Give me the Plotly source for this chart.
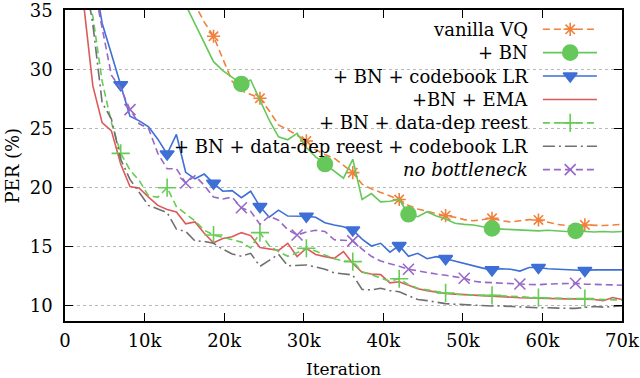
import plotly.graph_objects as go

# ---------------- data ----------------
N_POINTS = 60
MAX_ITER = 70000
iterations = [i * MAX_ITER / N_POINTS for i in range(1, N_POINTS + 1)]

vanilla_vq = [75, 68, 62, 57, 53, 50, 47.5, 45, 43, 41.5,
              40, 38.5, 37, 35.6, 34.0, 32.8, 30.9, 29.0, 28.2, 27.9,
              27.56, 26.5, 25.3, 24.9, 24.4, 23.95, 23.2, 22.8, 22.5, 21.9,
              21.27, 20.3, 19.9, 19.6, 19.3, 19.0, 18.5, 18.2, 18.0, 17.8,
              17.63, 17.5, 17.3, 17.2, 17.3, 17.41, 17.2, 17.1, 17.2, 17.3,
              17.27, 17.1, 16.9, 16.8, 16.75, 16.85, 16.8, 16.8, 16.85, 16.9]

bn = [80, 72, 66, 60, 56, 52, 49, 46.5, 44, 42,
      40, 37.5, 35.45, 33.85, 32.25, 30.65, 29.9, 29.3, 28.77, 29.1,
      27.4, 25.7, 24.3, 24.05, 24.6, 23.4, 22.6, 22.0, 21.4, 20.8,
      22.4, 19.0, 19.5, 18.8, 18.85, 19.0, 17.75, 17.55, 17.97, 17.6,
      17.35, 17.0, 16.9, 16.85, 16.7, 16.55, 16.5, 16.45, 16.45, 16.4,
      16.35, 16.4, 16.35, 16.3, 16.35, 16.3, 16.25, 16.3, 16.25, 16.3]

bn_codebook_lr = [52, 44, 38.5, 33.9, 31.3, 28.7, 26.05, 25.65, 25.15, 24.1,
                  22.85, 24.5, 21.3, 20.75, 21.15, 20.37, 19.7, 19.75, 19.15, 19.7,
                  18.4, 17.5, 18.1, 17.6, 17.62, 17.58, 17.5, 17.04, 16.85, 16.7,
                  16.42, 15.65, 15.07, 15.3, 14.55, 15.1, 14.2, 14.45, 14.0, 14.17,
                  14.0, 13.8, 13.55, 13.35, 13.2, 13.05, 13.15, 13.1, 12.95, 13.25,
                  13.25, 13.15, 13.1, 13.1, 13.05, 13.0, 13.05, 13.05, 13.05, 13.05]

bn_ema = [50.0, 35.6, 28.6, 25.5, 24.8, 22.0, 20.1, 19.95, 19.2, 18.5,
          18.15, 17.95, 16.95, 17.1, 16.15, 15.35, 15.7, 15.85, 16.2, 15.95,
          14.95, 14.85, 14.7, 15.3, 14.17, 14.88, 14.35, 14.17, 14.03, 14.6,
          13.6, 12.85, 12.7, 12.65, 11.95, 12.05, 11.75, 11.45, 11.3, 11.15,
          11.05, 11.0, 10.95, 10.9, 10.85, 10.8, 10.75, 10.72, 10.7, 10.68,
          10.65, 10.65, 10.6, 10.6, 10.6, 10.58, 10.55, 10.45, 10.72, 10.55]

bn_reest = [55, 36.5, 34.5, 29.0, 25.5, 22.9, 21.5, 20.6, 19.3, 19.2,
            20.0, 18.4, 17.8, 17.2, 16.4, 16.0, 15.8, 15.6, 15.4, 14.9,
            16.2, 15.1, 14.6, 14.2, 14.5, 14.88, 14.65, 14.3, 14.0, 13.8,
            13.75, 12.9, 12.65, 12.4, 12.1, 12.3, 11.8, 11.5, 11.35, 11.2,
            11.1, 11.0, 10.95, 10.92, 10.9, 10.9, 10.85, 10.8, 10.75, 10.72,
            10.7, 10.68, 10.66, 10.65, 10.65, 10.62, 10.6, 10.58, 10.55, 10.5]

bn_reest_codebook_lr = [56, 38.5, 33.8, 27.2, 25.8, 22.4, 20.7, 19.6, 18.5, 18.2,
                        17.9, 16.5, 16.3, 15.5, 15.45, 15.3, 14.8, 14.4, 14.2, 14.45,
                        13.35, 13.85, 14.37, 13.4, 13.42, 13.47, 13.3, 13.1, 12.8, 12.7,
                        12.62, 11.4, 11.35, 11.5, 11.3, 11.2, 10.85, 10.55, 10.45, 10.3,
                        10.2, 10.15, 10.1, 10.05, 10.0, 10.0, 10.0, 9.95, 9.9, 9.9,
                        9.85, 9.85, 9.8, 9.8, 9.8, 9.85, 9.95, 9.9, 9.95, 10.0]

no_bottleneck = [60, 45, 37.5, 33.5, 29.5, 28.4, 26.6, 25.4, 25.0, 22.9,
                 21.6, 21.6, 20.4, 21.0, 20.2, 19.2, 19.05, 19.2, 18.3, 18.0,
                 16.9, 17.6, 17.25, 16.45, 16.0, 16.25, 16.4, 16.3, 15.6, 15.55,
                 15.5, 14.8, 14.2, 13.8, 13.6, 13.35, 13.1, 12.95, 12.8, 12.7,
                 12.6, 12.45, 12.34, 12.1, 12.0, 11.97, 11.95, 11.9, 11.86, 11.82,
                 11.8, 11.85, 11.86, 11.9, 11.92, 11.85, 11.8, 11.8, 11.78, 11.75]

x_tick_vals = [0, 10000, 20000, 30000, 40000, 50000, 60000, 70000]
x_tick_text = ["0", "10k", "20k", "30k", "40k", "50k", "60k", "70k"]
y_tick_vals = [10, 15, 20, 25, 30, 35]
y_tick_text = ["10", "15", "20", "25", "30", "35"]

# ---------------- styles ----------------
FONT = "DejaVu Serif"
series = [
    dict(name="vanilla VQ", y=vanilla_vq, color="#f0803c", dash="7px,4px",
         symbol="asterisk-open", size=11, every=5),
    dict(name="+ BN", y=bn, color="#66c85a", dash="solid",
         symbol="circle", size=15, every=9),
    dict(name="+ BN + codebook LR", y=bn_codebook_lr, color="#3d6fd6", dash="solid",
         symbol="triangle-down", size=12, every=5),
    dict(name="+BN + EMA", y=bn_ema, color="#dc5a5a", dash="solid",
         symbol=None, size=0, every=0),
    dict(name="+ BN + data-dep reest", y=bn_reest, color="#66cc55", dash="7px,4px",
         symbol="cross-thin-open", size=13, every=5),
    dict(name="+ BN + data-dep reest + codebook LR", y=bn_reest_codebook_lr,
         color="#707070", dash="12px,4px,2px,4px", symbol=None, size=0, every=0),
    dict(name="<i>no bottleneck</i>", y=no_bottleneck, color="#9868c8", dash="7px,4px",
         symbol="x-thin-open", size=11, every=6),
]

fig = go.Figure()

for s in series:
    fig.add_trace(go.Scatter(
        x=iterations, y=s["y"], mode="lines",
        line=dict(color=s["color"], width=1.6, dash=s["dash"]),
        showlegend=False, hoverinfo="skip"))
    if s["symbol"]:
        n = s["every"]
        fig.add_trace(go.Scatter(
            x=iterations[::n], y=s["y"][::n], mode="markers",
            marker=dict(symbol=s["symbol"], size=s["size"], color=s["color"],
                        line=dict(color=s["color"], width=1.6)),
            showlegend=False, hoverinfo="skip"))

# ---------------- manual gnuplot-style key ----------------
KEY_TEXT_X = 0.835
KEY_LINE_X0 = 0.858
KEY_LINE_X1 = 0.955
KEY_MARK_X = 0.907
KEY_TOP_Y = 0.938
KEY_STEP = 0.0752

for k, s in enumerate(series):
    yk = KEY_TOP_Y - k * KEY_STEP
    fig.add_annotation(x=KEY_TEXT_X, y=yk, xref="paper", yref="paper",
                       text=s["name"], showarrow=False, xanchor="right",
                       yanchor="middle", font=dict(family=FONT, size=18, color="black"))
    fig.add_trace(go.Scatter(
        x=[KEY_LINE_X0, KEY_LINE_X1], y=[yk, yk], xaxis="x2", yaxis="y2",
        mode="lines", line=dict(color=s["color"], width=1.6, dash=s["dash"]),
        showlegend=False, hoverinfo="skip", cliponaxis=False))
    if s["symbol"]:
        fig.add_trace(go.Scatter(
            x=[KEY_MARK_X], y=[yk], xaxis="x2", yaxis="y2", mode="markers",
            marker=dict(symbol=s["symbol"], size=s["size"], color=s["color"],
                        line=dict(color=s["color"], width=1.6)),
            showlegend=False, hoverinfo="skip", cliponaxis=False))

axis_common = dict(showline=True, linecolor="black", linewidth=1.5, mirror="ticks",
                   ticks="inside", ticklen=8, tickwidth=1.3, tickcolor="black",
                   tickfont=dict(family=FONT, size=18, color="black"),
                   zeroline=False, automargin=False, ticklabeloverflow="allow")

fig.update_layout(
    width=640, height=378,
    margin=dict(l=65, r=18, t=10, b=57, autoexpand=False),
    paper_bgcolor="white", plot_bgcolor="white",
    showlegend=False,
    xaxis=dict(range=[0, MAX_ITER], tickvals=x_tick_vals, ticktext=x_tick_text,
               showgrid=False, ticklabelstandoff=3, **axis_common),
    yaxis=dict(range=[8.73, 35.02], tickvals=y_tick_vals, ticktext=y_tick_text,
               showgrid=True, gridcolor="#b8b8b8", griddash="dot", gridwidth=1,
               ticklabelstandoff=7, **axis_common),
    xaxis2=dict(overlaying="x", range=[0, 1], visible=False, automargin=False),
    yaxis2=dict(overlaying="y", range=[0, 1], visible=False, automargin=False),
)

fig.add_annotation(x=-0.095, y=0.5, xref="paper", yref="paper", text="PER (%)",
                   textangle=-90, showarrow=False, xanchor="center", yanchor="middle",
                   font=dict(family=FONT, size=18, color="black"))
fig.add_annotation(x=0.5, y=-0.155, xref="paper", yref="paper", text="Iteration",
                   showarrow=False, xanchor="center", yanchor="middle",
                   font=dict(family=FONT, size=17, color="black"))

fig.write_html("out.html", config={"displayModeBar": False},
               post_script="document.body.style.margin='0';document.body.style.padding='0';")
